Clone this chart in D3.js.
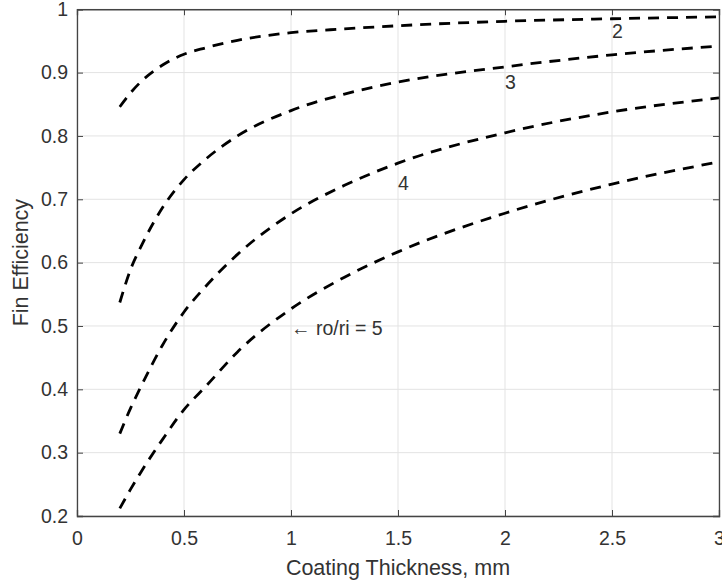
<!DOCTYPE html>
<html>
<head>
<meta charset="utf-8">
<script src="https://cdn.jsdelivr.net/npm/d3@7"></script>
<style>
  body { margin: 0; background: #fff; }
  text { font-family: "Liberation Sans", Arial, sans-serif; fill: #333; }
</style>
</head>
<body>
<div id="chart"></div>
<script>
// thickness values (mm) and efficiency for each ro/ri ratio
const thickness = [0.2, 0.25, 0.3, 0.4, 0.5, 0.6, 0.75, 1, 1.25, 1.5, 2, 2.5, 3];
const ratio2 = [0.846, 0.868, 0.886, 0.912, 0.929, 0.939, 0.951, 0.963, 0.969, 0.974, 0.981, 0.985, 0.988];
const ratio3 = [0.537, 0.589, 0.626, 0.687, 0.731, 0.763, 0.80, 0.84, 0.866, 0.885, 0.909, 0.928, 0.942];
const ratio4 = [0.33, 0.37, 0.405, 0.47, 0.522, 0.562, 0.613, 0.677, 0.722, 0.757, 0.805, 0.838, 0.86];
const ratio5 = [0.212, 0.242, 0.27, 0.321, 0.368, 0.404, 0.459, 0.527, 0.577, 0.617, 0.678, 0.724, 0.759];

const xTicks = [0, 0.5, 1, 1.5, 2, 2.5, 3];
const yTicks = [0.2, 0.3, 0.4, 0.5, 0.6, 0.7, 0.8, 0.9, 1];

const labels = [
  { text: "2", x: 2.5, y: 0.965 },
  { text: "3", x: 2.0, y: 0.885 },
  { text: "4", x: 1.5, y: 0.725 },
  { text: "\u2190 ro/ri = 5", x: 1.0, y: 0.496 }
];

const width = 722, height = 583;

const svg = d3.select("#chart").append("svg")
  .attr("width", width)
  .attr("height", height);

const x = d3.scaleLinear().domain([0, 3]).range([77, 719]);
const y = d3.scaleLinear().domain([0.2, 1]).range([516, 9.25]);

// grid
svg.append("g")
  .selectAll("line")
  .data(xTicks)
  .enter().append("line")
  .attr("x1", d => x(d)).attr("x2", d => x(d))
  .attr("y1", y(0.2)).attr("y2", y(1))
  .attr("stroke", "#e3e3e3");

svg.append("g")
  .selectAll("line")
  .data(yTicks)
  .enter().append("line")
  .attr("x1", x(0)).attr("x2", x(3))
  .attr("y1", d => y(d)).attr("y2", d => y(d))
  .attr("stroke", "#e3e3e3");

// curves
const line = d3.line()
  .x((d, i) => x(thickness[i]))
  .y(d => y(d))
  .curve(d3.curveMonotoneX);

[ratio2, ratio3, ratio4, ratio5].forEach(series => {
  svg.append("path")
    .attr("d", line(series))
    .attr("fill", "none")
    .attr("stroke", "#000")
    .attr("stroke-width", 2.8)
    .attr("stroke-dasharray", "11,8");
});

// axes (ticks inside, box)
const xAxis = svg.append("g")
  .attr("transform", `translate(0,${y(0.2)})`)
  .call(d3.axisBottom(x).tickValues(xTicks).tickSize(-6).tickPadding(15).tickFormat(d3.format("")));
const yAxis = svg.append("g")
  .attr("transform", `translate(${x(0)},0)`)
  .call(d3.axisLeft(y).tickValues(yTicks).tickSize(-6).tickPadding(9).tickFormat(d3.format("")));
const xTop = svg.append("g")
  .attr("transform", `translate(0,${y(1)})`)
  .call(d3.axisTop(x).tickValues(xTicks).tickSize(-6).tickFormat(""));
const yRight = svg.append("g")
  .attr("transform", `translate(${x(3)},0)`)
  .call(d3.axisRight(y).tickValues(yTicks).tickSize(-6).tickFormat(""));

[xAxis, yAxis, xTop, yRight].forEach(g => {
  g.selectAll("path").attr("stroke", "#444").attr("stroke-width", 1.3);
  g.selectAll("line").attr("stroke", "#444");
  g.selectAll("text")
    .style("font-family", "Liberation Sans, Arial, sans-serif")
    .style("font-size", "19.5px")
    .attr("fill", "#3a3a3a");
});

// curve labels
svg.selectAll("text.lbl")
  .data(labels)
  .enter().append("text")
  .attr("class", "lbl")
  .attr("x", d => x(d.x))
  .attr("y", d => y(d.y))
  .attr("dy", "0.35em")
  .style("font-size", "19.5px")
  .text(d => d.text);

// axis titles
svg.append("text")
  .attr("x", (x(0) + x(3)) / 2)
  .attr("y", 575)
  .attr("text-anchor", "middle")
  .style("font-size", "21.5px")
  .text("Coating Thickness, mm");

svg.append("text")
  .attr("transform", `translate(28,${(y(0.2) + y(1)) / 2}) rotate(-90)`)
  .attr("text-anchor", "middle")
  .style("font-size", "21.5px")
  .text("Fin Efficiency");
</script>
</body>
</html>
